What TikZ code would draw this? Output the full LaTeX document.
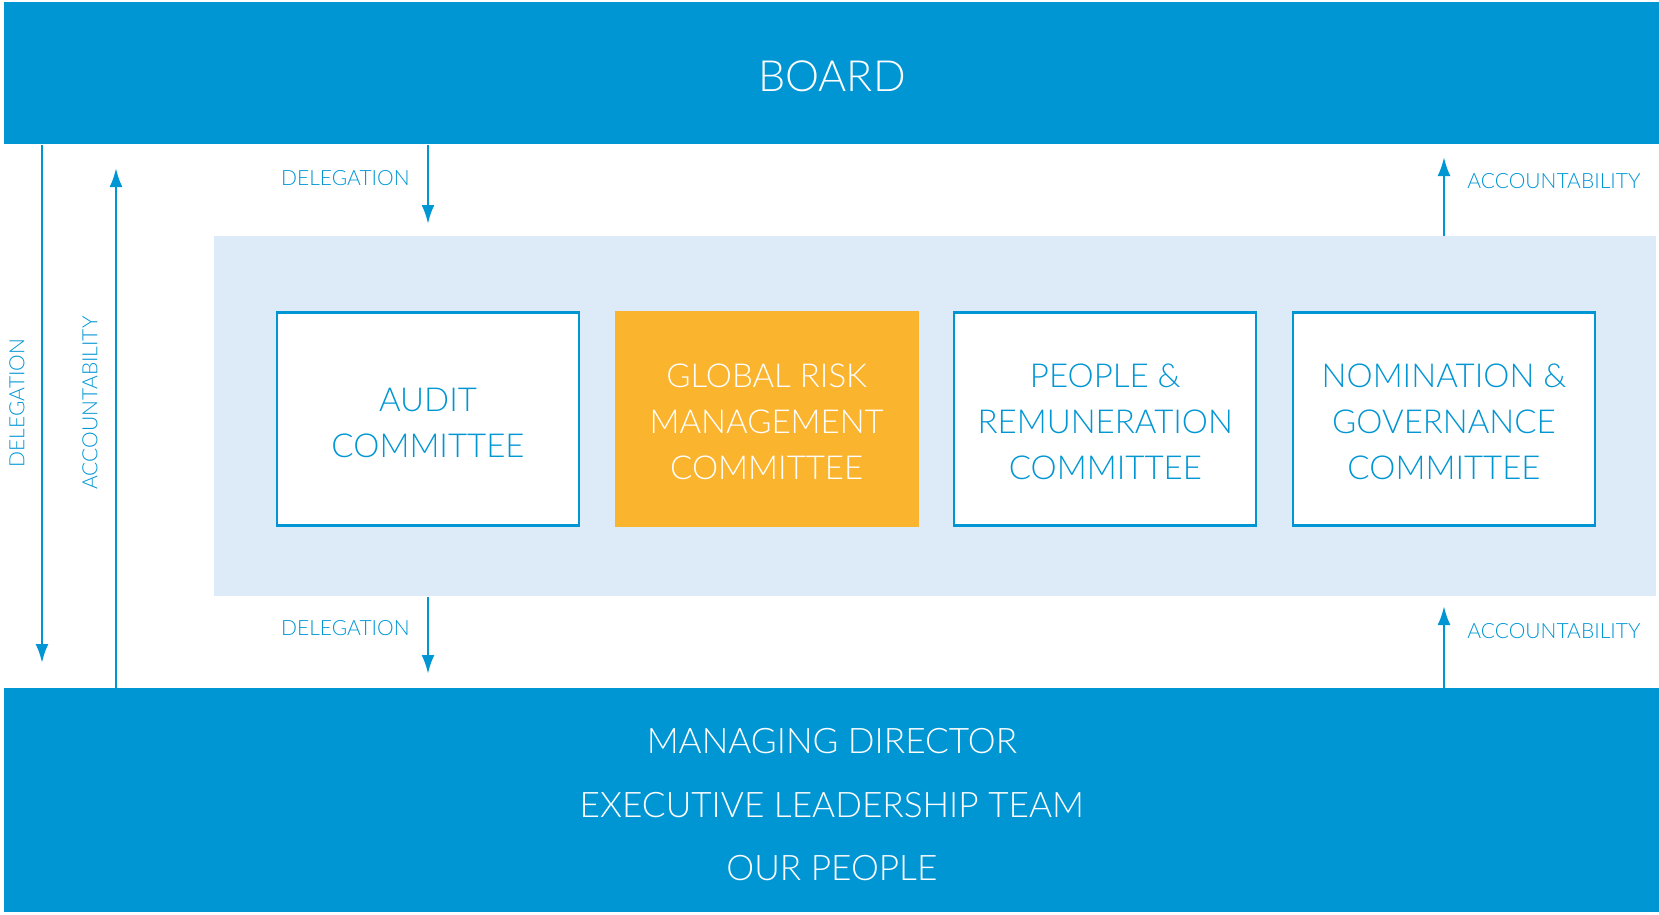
\documentclass[tikz,border=0pt]{standalone}
\usepackage{fontspec}
\IfFontExistsTF{Lato Light}{\setmainfont{Lato Light}}{\setmainfont{Lato}}
\usetikzlibrary{arrows.meta}
\definecolor{boardblue}{RGB}{0,150,212}
\definecolor{panelblue}{RGB}{221,235,248}
\definecolor{riskorange}{RGB}{251,180,46}
\begin{document}
\begin{tikzpicture}[x=0.5pt,y=-0.5pt,
  bar/.style={fill=boardblue,text=white,inner sep=0pt,anchor=north west,minimum width=827.5pt,align=center},
  cbox/.style={draw=boardblue,line width=1.1pt,fill=white,text=boardblue,minimum width=151pt,minimum height=106.5pt,align=center,inner sep=0pt,
    font=\fontsize{16.5}{23}\selectfont,text height=60.5pt},
  lbl/.style={text=boardblue,inner sep=0pt,font=\fontsize{10.5}{12}\selectfont},
  arr/.style={boardblue,line width=1.3pt,-{Latex[length=9.5pt,width=6.5pt]}}]
\useasboundingbox (0,0) rectangle (1659,915);
\node[bar,minimum height=71pt,font=\fontsize{21.5}{25}\selectfont,text height=18.6pt] (board) at (4,2) {BOARD};
\node[bar,minimum height=112pt,font=\fontsize{17.6}{31.75}\selectfont,text height=80.3pt] (staff) at (4,688)
  {MANAGING DIRECTOR\\EXECUTIVE LEADERSHIP TEAM\\OUR PEOPLE};
\node[fill=panelblue,anchor=north west,minimum width=721pt,minimum height=180pt,inner sep=0pt] (panel) at (214,236) {};
\node[cbox,text height=38.2pt] (audit) at (428,419) {AUDIT\\COMMITTEE};
\node[cbox,draw=riskorange,fill=riskorange,text=white] (risk) at (766.7,419) {GLOBAL RISK\\MANAGEMENT\\COMMITTEE};
\node[cbox] (people) at (1105.3,419) {PEOPLE \&\\REMUNERATION\\COMMITTEE};
\node[cbox] (nomination) at (1444,419) {NOMINATION \&\\GOVERNANCE\\COMMITTEE};
\coordinate (dleft) at (42,663);
\coordinate (aleft) at (116,168);
\coordinate (dtop) at (428,224);
\coordinate (dbot) at (428,674);
\coordinate (atop) at (1444,157);
\coordinate (abot) at (1444,606);
\draw[arr] (board.south -| dleft) -- (dleft);
\draw[arr] (staff.north -| aleft) -- (aleft);
\draw[arr] (board.south -| dtop) -- (dtop);
\draw[arr] (panel.south -| dbot) -- (dbot);
\draw[arr] (panel.north -| atop) -- (atop);
\draw[arr] (staff.north -| abot) -- (abot);
\node[lbl,anchor=east] (dtoplbl) at (410,178) {DELEGATION};
\node[lbl,anchor=east] (dbotlbl) at (410,628) {DELEGATION};
\node[lbl,anchor=west] (atoplbl) at (1467,181) {ACCOUNTABILITY};
\node[lbl,anchor=west] (abotlbl) at (1467,631) {ACCOUNTABILITY};
\node[lbl,rotate=90] (dleftlbl) at (17,403) {DELEGATION};
\node[lbl,rotate=90] (aleftlbl) at (90,403) {ACCOUNTABILITY};
\end{tikzpicture}
\end{document}
